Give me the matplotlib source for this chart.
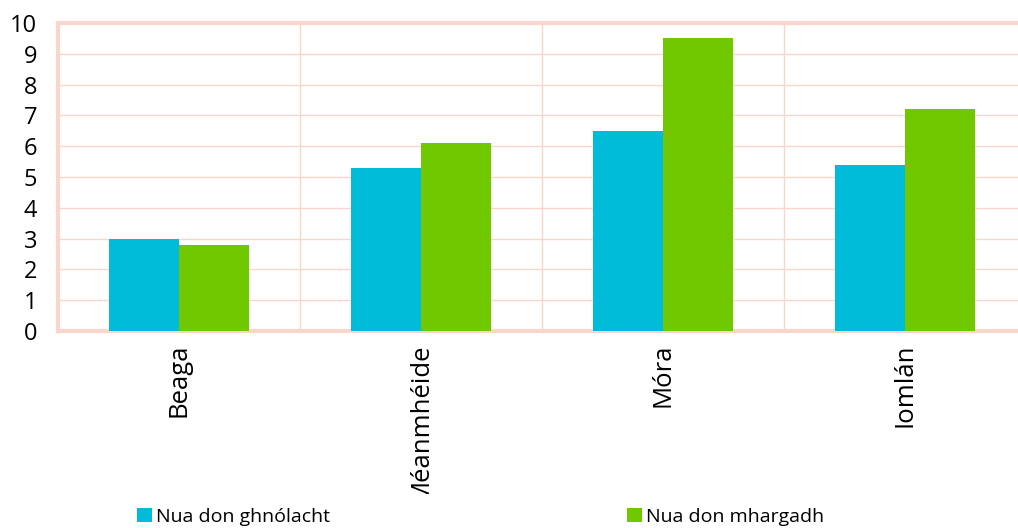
import matplotlib.pyplot as plt
import numpy as np
from matplotlib.transforms import Bbox, TransformedBbox

categories = ["Beaga", "Méanmhéide", "Móra", "Iomlán"]
series_names = ["Nua don ghnólacht", "Nua don mhargadh"]
new_to_firm = [3.0, 5.3, 6.5, 5.4]
new_to_market = [2.8, 6.1, 9.5, 7.2]

CYAN = "#00BCD9"
GREEN = "#70C800"
PINK = "#F9D6CB"

plt.rcParams["font.family"] = ["Open Sans", "DejaVu Sans"]

fig = plt.figure(figsize=(10.18, 5.28), dpi=100)
ax = fig.add_axes([58 / 1018, 1 - 331 / 528, 968 / 1018, 308 / 528])

x = np.arange(len(categories))
w = 0.29
b1 = ax.bar(x - w / 2, new_to_firm, w, color=CYAN, label=series_names[0], zorder=3)
b2 = ax.bar(x + w / 2, new_to_market, w, color=GREEN, label=series_names[1], zorder=3)

ax.set_xlim(-0.5, len(categories) - 0.5)
ax.set_ylim(0, 10)
ax.set_yticks(range(0, 11))
ax.set_xticks(x)
ax.set_xticklabels(categories, rotation=90, fontsize=18.5)
ax.tick_params(axis="y", labelsize=17, length=0, pad=15)
ax.tick_params(axis="x", length=0, pad=9)

ax.set_xticks(np.arange(0.5, len(categories) - 0.5, 1), minor=True)
ax.tick_params(axis="x", which="minor", length=0)
ax.grid(axis="y", color=PINK, linewidth=1, zorder=0)
ax.grid(axis="x", which="minor", color=PINK, linewidth=1, zorder=0)
ax.grid(axis="x", which="major", visible=False)

for side in ["left", "top", "bottom"]:
    ax.spines[side].set_color(PINK)
    ax.spines[side].set_linewidth(3)
ax.spines["right"].set_visible(False)

# category labels get cut off where the legend area starts, as in the original
clip = TransformedBbox(Bbox([[0, 34 / 528], [1, 1]]), fig.transFigure)
for lbl in ax.get_xticklabels():
    lbl.set_clip_on(True)
    lbl.set_clip_box(clip)

for handle, name, x0 in [(b1, series_names[0], 137), (b2, series_names[1], 627)]:
    fig.legend(handles=[handle], labels=[name], loc="lower left",
               bbox_to_anchor=(x0 / 1018, 0.004), frameon=False, fontsize=14,
               handlelength=0.75, handleheight=0.75, handletextpad=0.25,
               borderpad=0, borderaxespad=0)

fig.savefig("out.png", dpi=100)
